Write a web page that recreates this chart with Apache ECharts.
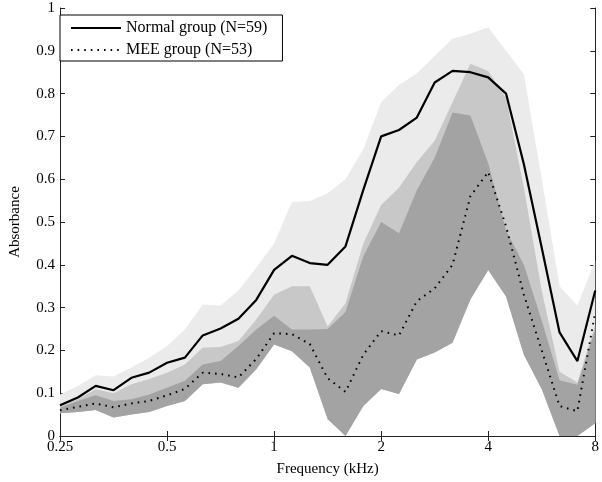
<!DOCTYPE html>
<html>
<head>
<meta charset="utf-8">
<script src="https://cdn.jsdelivr.net/npm/echarts@6/dist/echarts.min.js"></script>
<style>html,body{margin:0;padding:0;background:#fff;}#c{width:602px;height:482px;}</style>
</head>
<body>
<div id="c"></div>
<script>
// Frequencies (kHz), 1/6-octave steps
var freqs = [0.25, 0.2806, 0.315, 0.3536, 0.3969, 0.4454, 0.5, 0.5612, 0.63, 0.7071, 0.7937, 0.8909, 1, 1.1225, 1.2599, 1.4142, 1.5874, 1.7818, 2, 2.2449, 2.5198, 2.8284, 3.1748, 3.5636, 4, 4.4898, 5.0397, 5.6569, 6.3496, 7.1272, 8];
// Mean absorbance
var normalMean = [0.072, 0.09, 0.117, 0.107, 0.136, 0.148, 0.171, 0.183, 0.235, 0.251, 0.274, 0.318, 0.388, 0.421, 0.404, 0.40, 0.443, 0.575, 0.70, 0.715, 0.744, 0.826, 0.853, 0.85, 0.838, 0.80, 0.635, 0.44, 0.242, 0.175, 0.34];
var meeMean = [0.06, 0.068, 0.076, 0.067, 0.076, 0.082, 0.095, 0.11, 0.148, 0.145, 0.137, 0.18, 0.24, 0.238, 0.215, 0.135, 0.103, 0.19, 0.245, 0.235, 0.315, 0.345, 0.40, 0.56, 0.617, 0.49, 0.33, 0.20, 0.07, 0.058, 0.29];
// Visible shaded-region boundaries
var lightTop = [0.097, 0.117, 0.142, 0.139, 0.16, 0.183, 0.21, 0.249, 0.307, 0.305, 0.34, 0.393, 0.45, 0.547, 0.549, 0.567, 0.60, 0.67, 0.78, 0.82, 0.847, 0.888, 0.928, 0.94, 0.955, 0.90, 0.845, 0.60, 0.35, 0.305, 0.41];
var mediumTop = [0.071, 0.086, 0.109, 0.10, 0.121, 0.133, 0.148, 0.167, 0.206, 0.208, 0.222, 0.272, 0.33, 0.35, 0.35, 0.256, 0.31, 0.45, 0.54, 0.58, 0.64, 0.69, 0.78, 0.87, 0.853, 0.79, 0.58, 0.34, 0.15, 0.125, 0.26];
var darkTop = [0.066, 0.082, 0.095, 0.082, 0.086, 0.097, 0.113, 0.129, 0.167, 0.175, 0.21, 0.249, 0.281, 0.249, 0.249, 0.25, 0.29, 0.42, 0.50, 0.474, 0.574, 0.65, 0.756, 0.749, 0.637, 0.48, 0.40, 0.27, 0.13, 0.12, 0.25];
var darkBottom = [0.053, 0.056, 0.061, 0.043, 0.05, 0.056, 0.07, 0.082, 0.121, 0.125, 0.113, 0.156, 0.214, 0.198, 0.16, 0.04, 0, 0.07, 0.11, 0.098, 0.179, 0.195, 0.218, 0.319, 0.388, 0.326, 0.19, 0.11, 0, 0, 0.03];
// Axis ticks
var xTicks = [0.25, 0.5, 1, 2, 4, 8];
var xTickLabels = ['0.25', '0.5', '1', '2', '4', '8'];
var yTickLabels = ['0', '0.1', '0.2', '0.3', '0.4', '0.5', '0.6', '0.7', '0.8', '0.9', '1'];

var FONT = 'Liberation Serif';

function pairs(ys) { return freqs.map(function (f, i) { return [f, ys[i]]; }); }

function bandSeries(name, upper, lower, color) {
  return {
    type: 'custom',
    name: name,
    coordinateSystem: 'cartesian2d',
    silent: true,
    clip: true,
    data: [[freqs[0], lower[0]]],
    renderItem: function (params, api) {
      var pts = [];
      for (var i = 0; i < freqs.length; i++) pts.push(api.coord([freqs[i], upper[i]]));
      for (var j = freqs.length - 1; j >= 0; j--) pts.push(api.coord([freqs[j], lower[j]]));
      return { type: 'polygon', shape: { points: pts }, style: { fill: color, stroke: null } };
    }
  };
}

function xLabel(v) {
  var best = 0, bd = Infinity;
  for (var i = 0; i < xTicks.length; i++) {
    var d = Math.abs(Math.log(v) - Math.log(xTicks[i]));
    if (d < bd) { bd = d; best = i; }
  }
  return xTickLabels[best];
}
function yLabel(v) { return yTickLabels[Math.round(v * 10)]; }

var axisColor = '#222';
var chart = echarts.init(document.getElementById('c'), null, { renderer: 'canvas' });
chart.setOption({
  animation: false,
  backgroundColor: '#fff',
  grid: { left: 52, right: 6, top: 8, bottom: 45, containLabel: false, show: false },
  legend: {
    left: 60, top: 15, orient: 'vertical',
    data: ['Normal group (N=59)', 'MEE group (N=53)'],
    borderColor: '#000', borderWidth: 1, backgroundColor: '#fff',
    padding: [5, 15, 3, 10], itemGap: 6, itemWidth: 50, itemHeight: 12,
    itemStyle: { opacity: 0, borderWidth: 0 },
    textStyle: { fontFamily: FONT, fontSize: 16, color: '#000', lineHeight: 16 }
  },
  xAxis: [{
    type: 'log', logBase: 2, min: 0.25, max: 8,
    name: 'Frequency (kHz)', nameLocation: 'middle', nameGap: 26,
    nameTextStyle: { fontFamily: FONT, fontSize: 15, color: '#000' },
    axisLine: { show: true, lineStyle: { color: axisColor, width: 1 } },
    axisTick: { show: true, inside: true, length: 5, lineStyle: { color: axisColor } },
    minorTick: { show: false },
    splitLine: { show: false }, minorSplitLine: { show: false },
    axisLabel: { fontFamily: FONT, fontSize: 15, color: '#000', margin: 4, formatter: xLabel }
  }, {
    type: 'log', logBase: 2, min: 0.25, max: 8, position: 'top',
    axisLine: { show: true, lineStyle: { color: axisColor, width: 1 } },
    axisTick: { show: true, inside: true, length: 5, lineStyle: { color: axisColor } },
    splitLine: { show: false }, axisLabel: { show: false }
  }],
  yAxis: [{
    type: 'value', min: 0, max: 1, interval: 0.1,
    name: 'Absorbance', nameLocation: 'middle', nameGap: 37,
    nameTextStyle: { fontFamily: FONT, fontSize: 15, color: '#000' },
    axisLine: { show: true, lineStyle: { color: axisColor, width: 1 } },
    axisTick: { show: true, inside: true, length: 5, lineStyle: { color: axisColor } },
    splitLine: { show: false },
    axisLabel: { fontFamily: FONT, fontSize: 15, color: '#000', margin: 5, formatter: yLabel }
  }, {
    type: 'value', min: 0, max: 1, interval: 0.1, position: 'right',
    axisLine: { show: true, lineStyle: { color: axisColor, width: 1 } },
    axisTick: { show: true, inside: true, length: 5, lineStyle: { color: axisColor } },
    splitLine: { show: false }, axisLabel: { show: false }
  }],
  series: [
    bandSeries('lightBand', lightTop, darkBottom, '#ebebeb'),
    bandSeries('mediumBand', mediumTop, darkBottom, '#c8c8c8'),
    bandSeries('darkBand', darkTop, darkBottom, '#a3a3a3'),
    {
      type: 'line', name: 'Normal group (N=59)', data: pairs(normalMean),
      symbol: 'none', showSymbol: false, silent: true,
      lineStyle: { color: '#000', width: 2.2, type: 'solid' },
      itemStyle: { color: 'rgba(0,0,0,0)', borderWidth: 0 }
    },
    {
      type: 'line', name: 'MEE group (N=53)', data: pairs(meeMean),
      symbol: 'none', showSymbol: false, silent: true,
      lineStyle: { color: '#000', width: 2, type: [1.6, 5], cap: 'butt' },
      itemStyle: { color: 'rgba(0,0,0,0)', borderWidth: 0 }
    }
  ]
});
</script>
</body>
</html>
